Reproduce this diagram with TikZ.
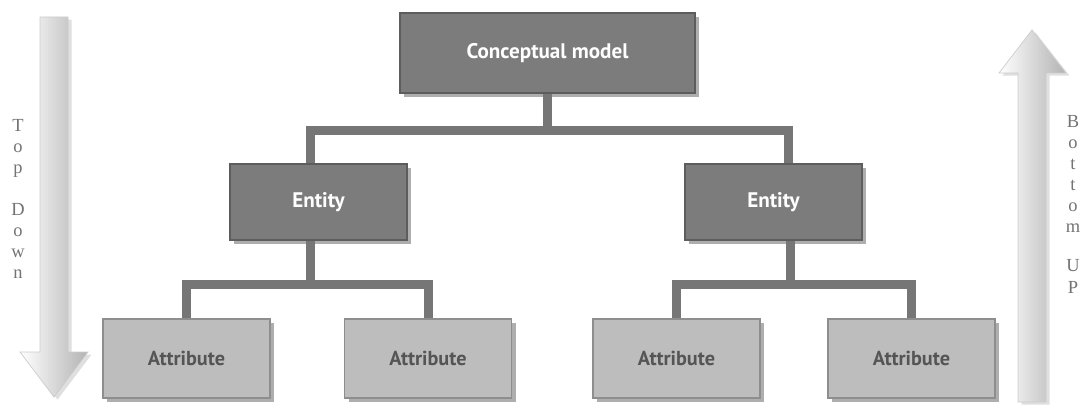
\documentclass[tikz,border=0pt]{standalone}
\usepackage{fontspec}
\setmainfont{PT Sans}
\newfontfamily\sideletters{Liberation Serif}
\usetikzlibrary{shadows}

\definecolor{boxdark}{HTML}{7C7C7C}
\definecolor{boxlight}{HTML}{BDBDBD}
\definecolor{linkgray}{HTML}{767676}
\definecolor{textgray}{HTML}{555555}

\tikzset{
  boxshadow/.style={drop shadow={shadow xshift=2.5pt, shadow yshift=-2.5pt, opacity=0.45, fill=black!70}},
  topbox/.style={draw=boxdark!75!black, line width=0.8pt, fill=boxdark, text=white, boxshadow,
    font=\bfseries\fontsize{12}{14}\selectfont, inner sep=0pt},
  attrbox/.style={draw=boxlight!75!black, line width=0.8pt, fill=boxlight, text=textgray, boxshadow,
    font=\bfseries\fontsize{11.5}{14}\selectfont, inner sep=0pt,
    minimum width=3.34cm, minimum height=1.58cm},
  link/.style={draw=linkgray, line width=0.18cm},
  bigarrow/.style={left color=white, right color=black!30, draw=black!20, line width=0.4pt,
    drop shadow={shadow xshift=2pt, shadow yshift=-1.5pt, opacity=0.25}},
  sidetext/.style={text=black!55, align=center, anchor=north, inner sep=0pt,
    font=\sideletters\fontsize{10.5}{12}\selectfont}
}

\begin{document}
\begin{tikzpicture}[x=0.02cm, y=-0.02cm] % one unit per pixel, y pointing down
        \useasboundingbox (0,0) rectangle (1084,408);

        % Top down / bottom up arrows
        \shade[bigarrow] (40,17) -- (68,17) -- (68,352) -- (88,352) -- (54,397)
            -- (20,352) -- (40,352) -- cycle;
        \shade[bigarrow] (1018,402) -- (1046,402) -- (1046,73) -- (1066,73) -- (1032,30)
            -- (999,73) -- (1018,73) -- cycle;
        \node[sidetext] (topdown) at (18,119) {T\\o\\p\\[0.42cm]D\\o\\w\\n};
        \node[sidetext] (bottomup) at (1073,115) {B\\o\\t\\t\\o\\m\\[0.36cm]U\\P};

        % Model and entities
        \node[topbox, minimum width=5.9cm, minimum height=1.6cm] (model) at (547.5,53) {Conceptual model};
        \node[topbox, minimum width=3.54cm, minimum height=1.52cm] (ent1) at (318.5,202) {Entity};
        \node[topbox, minimum width=3.54cm, minimum height=1.52cm] (ent2) at (773.5,202) {Entity};

        % Attributes
        \node[attrbox] (att1) at (186.5,358.5) {Attribute};
        \node[attrbox] (att2) at (428,358.5) {Attribute};
        \node[attrbox] (att3) at (676.5,358.5) {Attribute};
        \node[attrbox] (att4) at (911.5,358.5) {Attribute};

        % Connectors
        \draw[link] (model.south) -- ++(0,37) -| ([xshift=-0.17cm]ent1.north);
        \draw[link] (model.south) -- ++(0,37) -| ([xshift=0.29cm]ent2.north);
        \draw[link] ([xshift=-0.17cm]ent1.south) -- ++(0,44) -| (att1.north);
        \draw[link] ([xshift=-0.17cm]ent1.south) -- ++(0,44) -| (att2.north);
        \draw[link] ([xshift=0.33cm]ent2.south) -- ++(0,44) -| (att3.north);
        \draw[link] ([xshift=0.33cm]ent2.south) -- ++(0,44) -| (att4.north);
\end{tikzpicture}
\end{document}
